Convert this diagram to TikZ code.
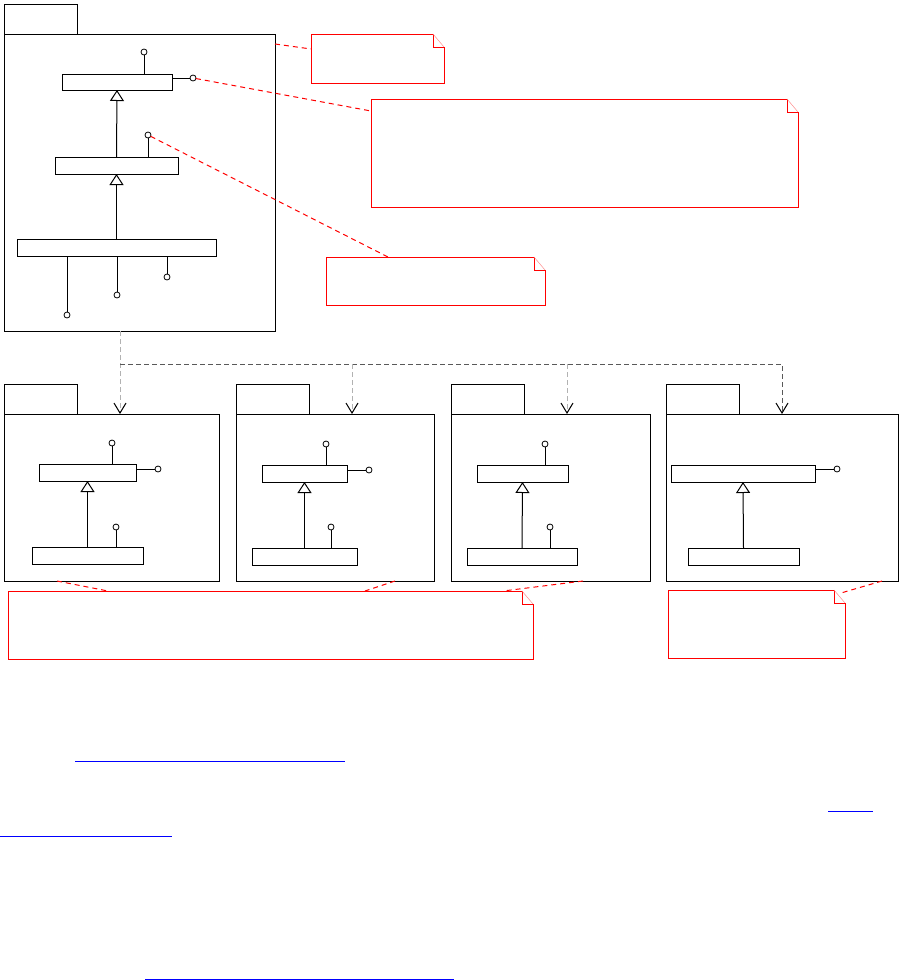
\documentclass[tikz,border=0pt]{standalone}
\usepackage{tikz}
\usetikzlibrary{arrows.meta}
\tikzset{
  cls/.style={draw, line width=1pt, inner sep=0pt, outer sep=0pt, minimum height=17pt},
  ball/.style={draw, circle, line width=0.8pt, fill=white, inner sep=0pt, outer sep=0pt, minimum size=6pt},
  pkg/.style={draw, line width=1pt, inner sep=0pt, outer sep=0pt},
  tab/.style={draw, line width=1pt, inner sep=0pt, outer sep=0pt, minimum width=73pt, minimum height=30pt, anchor=south west},
  stem/.style={line width=1pt},
  gen/.style={line width=1pt, -{Triangle[open, length=11pt, width=14pt]}},
  dep/.style={dash pattern=on 5pt off 3pt, line width=1pt, -{Straight Barb[length=10pt, width=12pt, color=black]}},
  notebox/.style={inner sep=0pt, outer sep=0pt},
  notepen/.style={red, line width=1pt},
  link/.style={red, dash pattern=on 5pt off 4pt, line width=1pt},
  ul/.style={blue, line width=1pt}
}
\newcommand{\notefold}[1]{%
  \draw[notepen] (#1.north west) -- ([xshift=-11pt]#1.north east) |- ([yshift=-13pt]#1.north east) -- (#1.south east) -- (#1.south west) -- cycle;
  \draw[red!45, line width=0.5pt] ([xshift=-11pt]#1.north east) -- ([yshift=-13pt]#1.north east);
}

\begin{document}
\begin{tikzpicture}[x=1pt, y=-1pt]
\useasboundingbox (0,0) rectangle (904,980);
%packages
\node[pkg, minimum width=271pt, minimum height=297pt] (pk0) at (139.5,182.5) {};
\node[tab] (pk0t) at (pk0.north west) {};
\node[pkg, minimum width=215pt, minimum height=167pt] (pk1) at (111.5,497.5) {};
\node[tab] (pk1t) at (pk1.north west) {};
\node[pkg, minimum width=198pt, minimum height=167pt] (pk2) at (335,497.5) {};
\node[tab] (pk2t) at (pk2.north west) {};
\node[pkg, minimum width=199pt, minimum height=167pt] (pk3) at (550.5,497.5) {};
\node[tab] (pk3t) at (pk3.north west) {};
\node[pkg, minimum width=232pt, minimum height=167pt] (pk4) at (782,497.5) {};
\node[tab] (pk4t) at (pk4.north west) {};

%classes
%top
\node[cls, minimum width=110pt, minimum height=16pt] (a0) at (117,82) {};
\node[cls, minimum width=123pt] (b0) at (116.5,165.5) {};
\node[cls, minimum width=199pt] (c0) at (116.5,247.5) {};
%lower
\node[cls, minimum width=97pt] (a1) at (87.5,472.5) {};
\node[cls, minimum width=111pt] (b1) at (87.5,555.5) {};
\node[cls, minimum width=85pt] (a2) at (304.5,473.5) {};
\node[cls, minimum width=105pt] (b2) at (304.5,556.5) {};
\node[cls, minimum width=91pt] (a3) at (522.5,473.5) {};
\node[cls, minimum width=110pt] (b3) at (522,556.5) {};
\node[cls, minimum width=144pt] (a4) at (743,473.5) {};
\node[cls, minimum width=111pt] (b4) at (743.5,556.5) {};

%generalization
\draw[gen] (b0.north) -- (a0.south);
\draw[gen] (c0.north) -- (b0.south);
\draw[gen] (b1.north) -- (a1.south);
\draw[gen] (b2.north) -- (a2.south);
\draw[gen] (b3.north) -- (a3.south);
\draw[gen] (b4.north) -- (a4.south);

%interfaces
\node[ball] (l0a) at (144,52) {};
\node[ball] (l0b) at (193,78) {};
\node[ball] (l0c) at (148,135) {};
\node[ball] (l0d) at (67,315) {};
\node[ball] (l0e) at (117,295) {};
\node[ball] (l0f) at (167,277) {};
\node[ball] (l1a) at (112,443) {};
\node[ball] (l1b) at (158,469) {};
\node[ball] (l1c) at (116,527) {};
\node[ball] (l2a) at (326,444) {};
\node[ball] (l2b) at (369,470) {};
\node[ball] (l2c) at (331,527) {};
\node[ball] (l3a) at (545,444) {};
\node[ball] (l3c) at (550,527) {};
\node[ball] (l4b) at (837,469) {};
\draw[stem] (l0a) -- (l0a |- a0.north);
\draw[stem] (l0b) -- (l0b -| a0.east);
\draw[stem] (l0c) -- (l0c |- b0.north);
\draw[stem] (l0d) -- (l0d |- c0.south);
\draw[stem] (l0e) -- (l0e |- c0.south);
\draw[stem] (l0f) -- (l0f |- c0.south);
\draw[stem] (l1a) -- (l1a |- a1.north);
\draw[stem] (l1b) -- (l1b -| a1.east);
\draw[stem] (l1c) -- (l1c |- b1.north);
\draw[stem] (l2a) -- (l2a |- a2.north);
\draw[stem] (l2b) -- (l2b -| a2.east);
\draw[stem] (l2c) -- (l2c |- b2.north);
\draw[stem] (l3a) -- (l3a |- a3.north);
\draw[stem] (l3c) -- (l3c |- b3.north);
\draw[stem] (l4b) -- (l4b -| a4.east);

%dependencies
\coordinate (hub) at (120,364);
\coordinate (d2) at (352,364);
\coordinate (d3) at (567,364);
\draw[dep, gray!60] (pk0.south -| hub) -- (hub |- pk1.north);
\draw[dep, black!65] (hub) -| (pk4.north);
\draw[dep, gray!60] (d2) -- (d2 |- pk2.north);
\draw[dep, gray!60] (d3) -- (d3 |- pk3.north);

%notes
\node[notebox, minimum width=133pt, minimum height=49pt] (n1) at (377.5,58.5) {};
\node[notebox, minimum width=427pt, minimum height=108pt] (n2) at (584.5,153) {};
\node[notebox, minimum width=219pt, minimum height=48pt] (n3) at (435.5,281) {};
\node[notebox, minimum width=525pt, minimum height=68pt] (n4) at (270.5,625) {};
\node[notebox, minimum width=177pt, minimum height=68pt] (n5) at (756.5,624) {};
\notefold{n1}
\notefold{n2}
\notefold{n3}
\notefold{n4}
\notefold{n5}
\draw[link] ([yshift=-10pt]pk0.north east) -- ([yshift=-15pt]n1.north west);
\draw[link] (l0b) -- ([yshift=-12pt]n2.north west);
\draw[link] (l0c) -- ([xshift=62pt]n3.north west);
\draw[link] ([xshift=53pt]pk1.south west) -- ([xshift=100pt]n4.north west);
\draw[link] ([xshift=-39pt]pk2.south east) -- ([xshift=357pt]n4.north west);
\draw[link] ([xshift=132pt]pk3.south west) -- ([xshift=-30pt]n4.north east);
\draw[link] ([xshift=-16pt]pk4.south east) -- ([xshift=-4pt, yshift=-3pt]n5.north east);

%underlines
\draw[ul] (75,761) -- (345,761);
\draw[ul] (828,811) -- (873,811);
\draw[ul] (0,836) -- (172,836);
\draw[ul] (145,979) -- (454,979);
\end{tikzpicture}
\end{document}
